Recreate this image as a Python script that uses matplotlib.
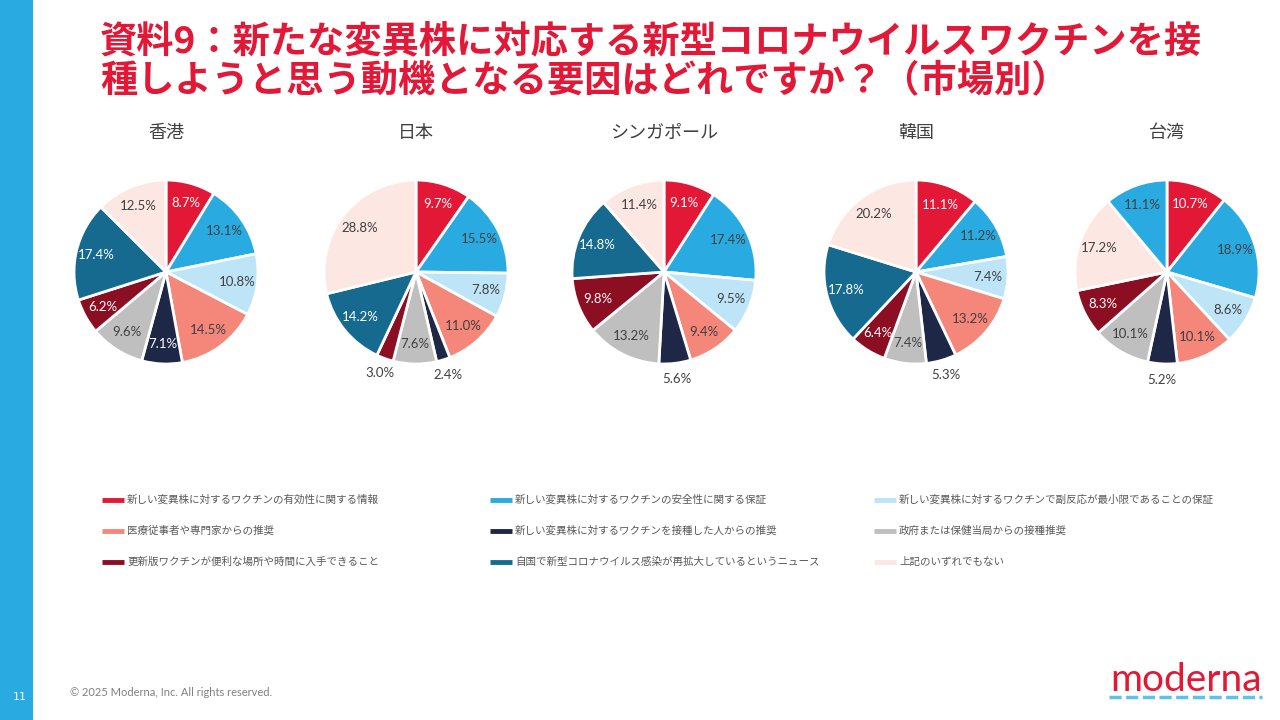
import matplotlib
matplotlib.use("Agg")
import matplotlib.pyplot as plt
import numpy as np

plt.rcParams['font.family'] = ['Noto Sans CJK JP', 'DejaVu Sans']

markets = ["香港", "日本", "シンガポール", "韓国", "台湾"]
categories = [
    "新しい変異株に対するワクチンの有効性に関する情報",
    "新しい変異株に対するワクチンの安全性に関する保証",
    "新しい変異株に対するワクチンで副反応が最小限であることの保証",
    "医療従事者や専門家からの推奨",
    "新しい変異株に対するワクチンを接種した人からの推奨",
    "政府または保健当局からの接種推奨",
    "更新版ワクチンが便利な場所や時間に入手できること",
    "自国で新型コロナウイルス感染が再拡大しているというニュース",
    "上記のいずれでもない",
]
hongkong = [8.7, 13.1, 10.8, 14.5, 7.1, 9.6, 6.2, 17.4, 12.5]
japan = [9.7, 15.5, 7.8, 11.0, 2.4, 7.6, 3.0, 14.2, 28.8]
singapore = [9.1, 17.4, 9.5, 9.4, 5.6, 13.2, 9.8, 14.8, 11.4]
korea = [11.1, 11.2, 7.4, 13.2, 5.3, 7.4, 6.4, 17.8, 20.2]
taiwan = [10.7, 18.9, 8.6, 10.1, 5.2, 10.1, 8.3, 17.2, 11.1]
series = [hongkong, japan, singapore, korea, taiwan]

colors = ["#E31837", "#29ABE2", "#BEE5F7", "#F4877A", "#1E2746",
          "#BFBFBF", "#8B0E23", "#166A8F", "#FDE7E3"]
white_text = {0, 4, 6, 7}
# Taiwan's chart shows the last two slices coloured pink then blue
taiwan_colors = colors[:7] + [colors[8], colors[1]]
taiwan_white = {0, 4, 6}

W, H = 1280, 720
fig = plt.figure(figsize=(12.8, 7.2), dpi=100)
fig.patch.set_facecolor("white")

# left blue band
fig.add_artist(plt.Rectangle((0, 0), 33 / W, 1, transform=fig.transFigure,
                             color="#29ABE2", lw=0))
fig.text(20 / W, 1 - 697 / H, "11", color="white", fontsize=8,
         ha="center", va="center", family=["DejaVu Sans"])

# title
title_color = "#E31837"
fig.text(100 / W, 1 - 43 / H, "資料9：新たな変異株に対応する新型コロナウイルスワクチンを接",
         color=title_color, fontsize=26.8, fontweight="bold", ha="left", va="center")
fig.text(100 / W, 1 - 81 / H, "種しようと思う動機となる要因はどれですか？（市場別）",
         color=title_color, fontsize=26.8, fontweight="bold", ha="left", va="center")

centers_x = [166, 416, 664, 916, 1167]
cy = 272
r_px = 92
lim = 1.3
box = 2 * r_px * lim

for i, (name, vals, cx) in enumerate(zip(markets, series, centers_x)):
    ax = fig.add_axes([(cx - box / 2) / W, 1 - (cy + box / 2) / H, box / W, box / H])
    cols = taiwan_colors if i == 4 else colors
    wt = taiwan_white if i == 4 else white_text
    wedges, _ = ax.pie(vals, colors=cols, startangle=90, counterclock=False,
                       radius=1.0, wedgeprops=dict(edgecolor="white", linewidth=2))
    for k, (w, v) in enumerate(zip(wedges, vals)):
        ang = np.deg2rad((w.theta1 + w.theta2) / 2)
        if v < 6:
            d = 1.17
            tc = "#404040"
        else:
            d = 0.78
            tc = "white" if k in wt else "#404040"
        ax.text(d * np.cos(ang), d * np.sin(ang), f"{v:.1f}%", ha="center", va="center",
                fontsize=9.5, color=tc, family=["Lato", "DejaVu Sans"])
    ax.set_xlim(-lim, lim)
    ax.set_ylim(-lim, lim)
    ax.set_aspect("equal")
    ax.axis("off")
    fig.text(cx / W, 1 - 133 / H, name, ha="center", va="center", fontsize=13,
             color="#404040")

# legend
col_x = [102, 490, 874]
row_y = [500, 531, 562]
for idx, cat in enumerate(categories):
    r, c = divmod(idx, 3)
    x0 = col_x[c]
    y0 = 1 - row_y[r] / H
    fig.add_artist(plt.Line2D([x0 / W, (x0 + 22) / W], [y0, y0], color=colors[idx],
                              lw=3.5, transform=fig.transFigure, solid_capstyle="butt"))
    fig.text((x0 + 25) / W, y0, cat, ha="left", va="center", fontsize=7.6,
             color="#595959")

# footer
fig.text(70 / W, 1 - 693 / H, "© 2025 Moderna, Inc. All rights reserved.",
         ha="left", va="center", fontsize=8, color="#808080",
         family=["Lato", "DejaVu Sans"])
fig.text(1186 / W, 1 - 680 / H, "moderna", ha="center", va="center", fontsize=28,
         color="#E31837", family=["Lato", "DejaVu Sans"], fontweight="normal")
fig.add_artist(plt.Line2D([1109 / W, 1262 / W], [1 - 697 / H, 1 - 697 / H],
                          color="#5BC2EC", lw=2.5, linestyle=(0, (3.5, 1.3)),
                          transform=fig.transFigure))

fig.savefig("out.png", dpi=100, facecolor="white")
